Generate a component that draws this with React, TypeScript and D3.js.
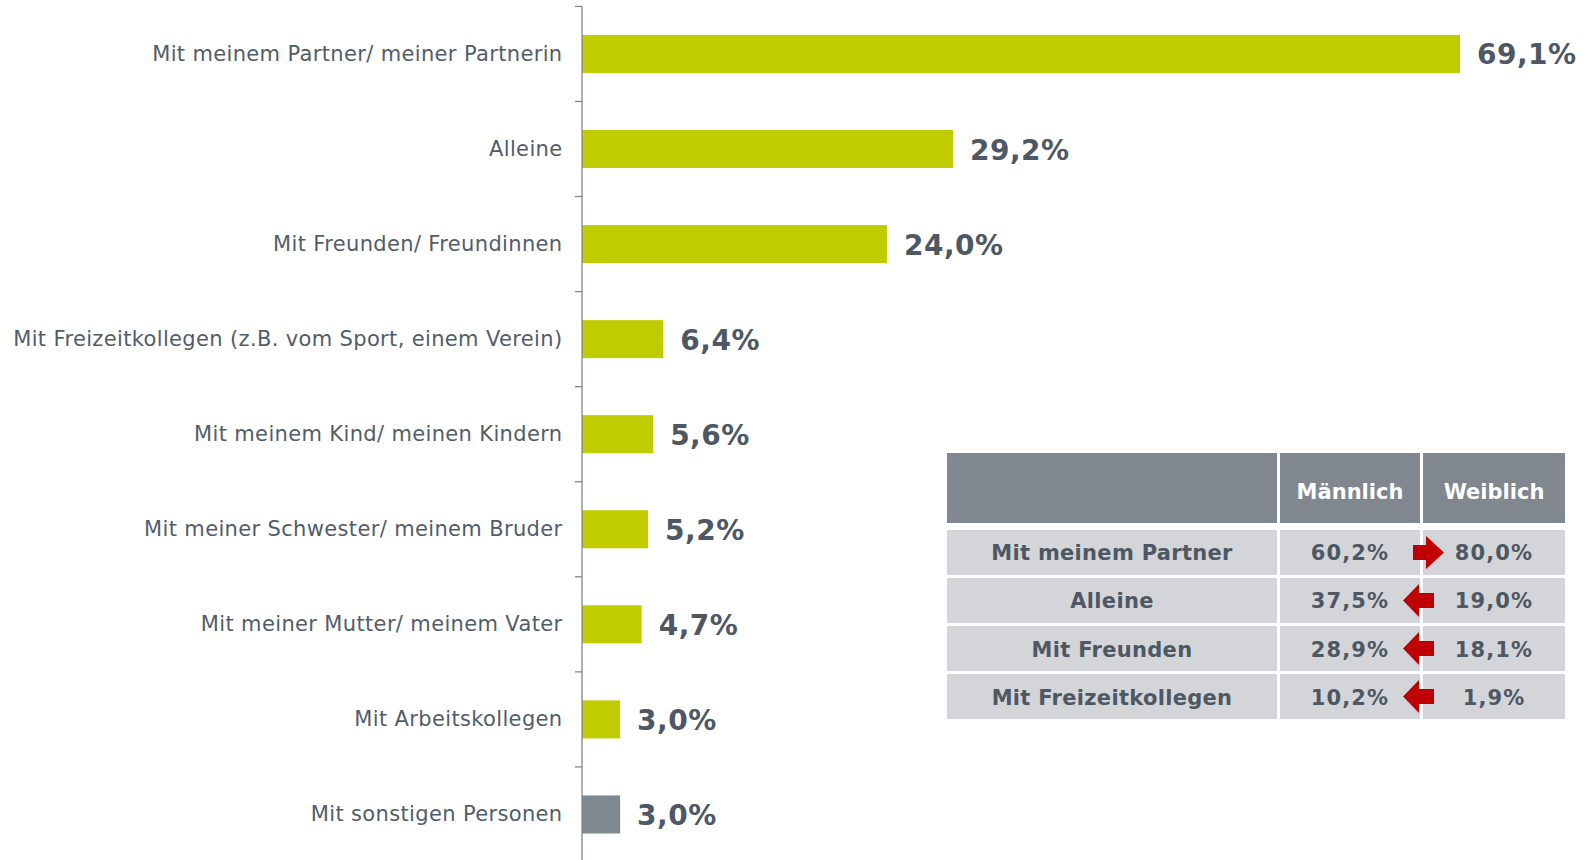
import React from "react";
import * as d3 from "d3";

// chart data
const categories = [
  "Mit meinem Partner/ meiner Partnerin",
  "Alleine",
  "Mit Freunden/ Freundinnen",
  "Mit Freizeitkollegen (z.B. vom Sport, einem Verein)",
  "Mit meinem Kind/ meinen Kindern",
  "Mit meiner Schwester/ meinem Bruder",
  "Mit meiner Mutter/ meinem Vater",
  "Mit Arbeitskollegen",
  "Mit sonstigen Personen",
];
const values = [69.1, 29.2, 24.0, 6.4, 5.6, 5.2, 4.7, 3.0, 3.0];

// small table by gender
const tableHeaders = ["", "Männlich", "Weiblich"];
const tableRows = ["Mit meinem Partner", "Alleine", "Mit Freunden", "Mit Freizeitkollegen"];
const maleValues = [60.2, 37.5, 28.9, 10.2];
const femaleValues = [80.0, 19.0, 18.1, 1.9];
// arrow points toward the larger share
const arrowDir = ["right", "left", "left", "left"];

const W = 1592;
const H = 860;
const GREEN = "#bfcd00";
const GREY = "#7f8790";
const TEXT = "#525d69";
const VALUE = "#4d5864";
const RED = "#c00000";

const fmt = (v: number) => v.toFixed(1).replace(".", ",") + "%";

export default function App() {
  const axisX = 582;
  const x = d3.scaleLinear().domain([0, 69.1]).range([axisX, 1460]);
  const y = d3
    .scaleBand<string>()
    .domain(categories)
    .range([6.4, 862])
    .paddingInner(0.6)
    .paddingOuter(0.3);
  const step = y.step();
  const bw = y.bandwidth();

  // table layout
  const cols = [
    [947, 1277],
    [1280, 1420],
    [1423, 1565],
  ];
  const headTop = 453;
  const headBottom = 523;
  const rowY = d3
    .scaleBand<string>()
    .domain(tableRows)
    .range([530, 719])
    .paddingInner(0.065);
  const rh = rowY.bandwidth();

  const arrowPath = (dir: string, cy: number) => {
    // shaft + head, head is taller than the shaft
    const sh = 7.5;
    const hh = 16.5;
    if (dir === "right") {
      const x0 = 1413, xb = 1426, xt = 1444;
      return `M${x0},${cy - sh}H${xb}V${cy - hh}L${xt},${cy}L${xb},${cy + hh}V${cy + sh}H${x0}Z`;
    }
    const x0 = 1434, xb = 1419, xt = 1403;
    return `M${x0},${cy - sh}H${xb}V${cy - hh}L${xt},${cy}L${xb},${cy + hh}V${cy + sh}H${x0}Z`;
  };

  return (
    <svg
      width={W}
      height={H}
      style={{ position: "absolute", left: 0, top: 0, fontFamily: "'DejaVu Sans', Verdana, sans-serif" }}
    >
      <rect width={W} height={H} fill="#fff" />

      {/* bars */}
      {categories.map((c, i) => (
        <rect
          key={c}
          x={axisX}
          y={y(c)!}
          width={x(values[i]) - axisX}
          height={bw}
          fill={i === categories.length - 1 ? GREY : GREEN}
        />
      ))}

      {/* axis line + ticks */}
      <line x1={axisX} x2={axisX} y1={6.4} y2={H} stroke={GREY} strokeWidth={1.3} />
      {categories.map((c, i) => {
        const ty = y(c)! - (step * 0.6) / 2;
        return (
          <line key={"t" + i} x1={axisX - 7} x2={axisX} y1={ty} y2={ty} stroke={GREY} strokeWidth={1.3} />
        );
      })}

      {/* category labels */}
      {categories.map((c) => (
        <text
          key={"l" + c}
          x={562.5}
          y={y(c)! + bw / 2}
          textAnchor="end"
          dominantBaseline="central"
          fontSize={21}
          letterSpacing={0.35}
          fill={TEXT}
        >
          {c}
        </text>
      ))}

      {/* value labels */}
      {categories.map((c, i) => (
        <text
          key={"v" + c}
          x={x(values[i]) + 17}
          y={y(c)! + bw / 2 + 1}
          dominantBaseline="central"
          fontSize={28}
          letterSpacing={0.5}
          fontWeight="bold"
          fill={VALUE}
        >
          {fmt(values[i])}
        </text>
      ))}

      {/* table header */}
      {cols.map(([a, b], j) => (
        <g key={"h" + j}>
          <rect x={a} y={headTop} width={b - a} height={headBottom - headTop} fill="#80878f" />
          {tableHeaders[j] && (
            <text
              x={(a + b) / 2}
              y={headBottom - 31}
              textAnchor="middle"
              dominantBaseline="central"
              fontSize={21}
              fontWeight="bold"
              fill="#fff"
            >
              {tableHeaders[j]}
            </text>
          )}
        </g>
      ))}

      {/* table rows */}
      {tableRows.map((r, i) => {
        const ry = rowY(r)!;
        const cy = ry + rh / 2;
        const cells = [r, fmt(maleValues[i]), fmt(femaleValues[i])];
        return (
          <g key={"r" + r}>
            {cols.map(([a, b], j) => (
              <g key={j}>
                <rect x={a} y={ry} width={b - a} height={rh} fill="#d4d5d9" />
                <text
                  x={(a + b) / 2}
                  y={cy + 1}
                  textAnchor="middle"
                  dominantBaseline="central"
                  fontSize={21}
                  letterSpacing={j === 0 ? 0.3 : 1.1}
                  fontWeight="bold"
                  fill={VALUE}
                >
                  {cells[j]}
                </text>
              </g>
            ))}
            <path d={arrowPath(arrowDir[i], cy)} fill={RED} />
          </g>
        );
      })}
    </svg>
  );
}
